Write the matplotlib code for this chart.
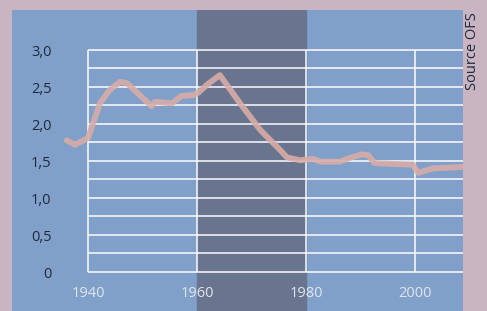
import numpy as np
import matplotlib.pyplot as plt

plt.rcParams['font.family'] = ['Open Sans', 'DejaVu Sans']

# fertility curve
years = [1936.1, 1937.6, 1940.0, 1942.2, 1944.0, 1945.9, 1947.2, 1949.5, 1951.7,
         1952.3, 1955.4, 1957.2, 1959.3, 1960.2, 1962.0, 1964.2, 1967.9, 1971.6,
         1974.7, 1976.5, 1978.9, 1981.3, 1982.6, 1986.2, 1988.0, 1990.3, 1991.4,
         1992.6, 1996.0, 1999.6, 2000.6, 2003.3, 2008.8]
values = [1.78, 1.72, 1.81, 2.28, 2.46, 2.57, 2.55, 2.39, 2.24,
          2.30, 2.28, 2.38, 2.39, 2.42, 2.54, 2.66, 2.28, 1.92,
          1.69, 1.55, 1.51, 1.53, 1.49, 1.49, 1.54, 1.59, 1.58,
          1.47, 1.46, 1.45, 1.34, 1.40, 1.42]

y_ticks = [0, 0.5, 1.0, 1.5, 2.0, 2.5, 3.0]
y_labels = ['0', '0,5', '1,0', '1,5', '2,0', '2,5', '3,0']
x_ticks = [1940, 1960, 1980, 2000]

pink = '#c9b4c2'
blue = '#80a0c9'
dark = '#69748f'
line_col = '#d9aca7'

fig = plt.figure(figsize=(4.87, 3.11), dpi=100)
fig.patch.set_facecolor(pink)

W, H = 487, 311
ax = fig.add_axes([12 / W, 0, (463 - 12) / W, (311 - 10) / H])
ax.set_facecolor(blue)
ax.set_xlim(1926.06, 2008.81)
ax.set_ylim(-0.527, 3.54)
for s in ax.spines.values():
    s.set_visible(False)
ax.set_xticks([])
ax.set_yticks([])

ax.axvspan(1960, 1980, color=dark, zorder=0)

grid = np.arange(0, 3.01, 0.25)
ax.hlines(grid, 1940, 2008.81, color='white', lw=1.2, alpha=0.9, zorder=1)
ax.vlines(x_ticks, 0, 3.0, color='white', lw=1.2, alpha=0.9, zorder=1)

ax.plot(years, values, color=line_col, lw=4.2, alpha=0.9, solid_capstyle='round',
        solid_joinstyle='round', zorder=2)

for v, lab in zip(y_ticks, y_labels):
    ax.text(1933.3, v - 0.04, lab, ha='right', va='center', fontsize=10.5,
            color='#1e2a40')
for x in x_ticks:
    ax.text(x, -0.29, str(x), ha='center', va='center', fontsize=10.5,
            color='#dfe6f0')

fig.text(472 / W, 1 - 12 / H, 'Source OFS', rotation=90, ha='center', va='top',
         fontsize=10.5, color='#1e2a40')

fig.savefig('out.png', dpi=100, facecolor=pink)
